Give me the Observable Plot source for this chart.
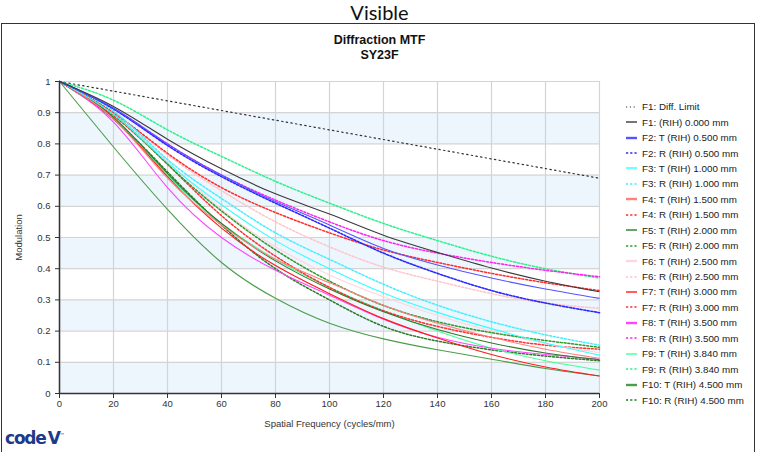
<!DOCTYPE html>
<html>
<head>
<meta charset="utf-8">
<script src="https://cdn.jsdelivr.net/npm/d3@7"></script>
<script src="https://cdn.jsdelivr.net/npm/@observablehq/plot@0.6"></script>
<style>
  html, body { margin: 0; padding: 0; background: #fff; }
  #wrap { position: relative; width: 759px; height: 452px; overflow: hidden; font-family: "Liberation Sans", Arial, sans-serif; }
  #top { position: absolute; left: 0; top: 0; width: 759px; text-align: center; font-family: Lato, "Open Sans", sans-serif; font-size: 20px; color: #111; line-height: 24px; }
  #frame { position: absolute; left: 1px; top: 23px; width: 754px; height: 430px; border: 1.5px solid #333; box-sizing: border-box; }
  #title { position: absolute; left: 0; top: 33px; width: 759px; text-align: center; font-weight: bold; font-size: 12.5px; line-height: 15px; color: #111; }
  #chart { position: absolute; left: 0; top: 0; }
  #legend { position: absolute; left: 626px; top: 99px; font-size: 9.8px; color: #222; }
  #legend .row { height: 15.45px; display: flex; align-items: center; white-space: nowrap; }
  #legend svg { margin-right: 4px; }
  #logo { position: absolute; left: 5px; top: 428px; font-family: "DejaVu Sans", sans-serif; font-weight: 900; font-size: 17px; color: #1d3a8a; letter-spacing: -1.2px; }
  #logo sup { font-size: 5px; letter-spacing: 0; font-weight: normal; }
</style>
</head>
<body>
<div id="wrap">
  <div id="top">Visible</div>
  <div id="frame"></div>
  <div id="chart"></div>
  <div id="title">Diffraction MTF<br>SY23F</div>
  <div id="legend"></div>
  <div id="logo">code<span style="margin-left:2px">V</span><sup>™</sup></div>
</div>
<script>
// Spatial frequency samples (cycles/mm)
const freq = [0, 20, 40, 60, 80, 100, 120, 140, 160, 180, 200];

// Series names (legend order)
const seriesNames = [
  "F1: Diff. Limit",
  "F1: (RIH) 0.000 mm",
  "F2: T (RIH) 0.500 mm",
  "F2: R (RIH) 0.500 mm",
  "F3: T (RIH) 1.000 mm",
  "F3: R (RIH) 1.000 mm",
  "F4: T (RIH) 1.500 mm",
  "F4: R (RIH) 1.500 mm",
  "F5: T (RIH) 2.000 mm",
  "F5: R (RIH) 2.000 mm",
  "F6: T (RIH) 2.500 mm",
  "F6: R (RIH) 2.500 mm",
  "F7: T (RIH) 3.000 mm",
  "F7: R (RIH) 3.000 mm",
  "F8: T (RIH) 3.500 mm",
  "F8: R (RIH) 3.500 mm",
  "F9: T (RIH) 3.840 mm",
  "F9: R (RIH) 3.840 mm",
  "F10: T (RIH) 4.500 mm",
  "F10: R (RIH) 4.500 mm"
];

// Modulation values at each frequency
const diffLimit = [1, 0.969, 0.938, 0.907, 0.876, 0.845, 0.814, 0.783, 0.752, 0.721, 0.690];
const f1   = [1, 0.920, 0.815, 0.720, 0.640, 0.575, 0.507, 0.452, 0.402, 0.360, 0.326];
const f2T  = [1, 0.915, 0.800, 0.700, 0.615, 0.540, 0.465, 0.412, 0.370, 0.335, 0.305];
const f2R  = [1, 0.912, 0.795, 0.695, 0.610, 0.530, 0.450, 0.385, 0.330, 0.290, 0.259];
const f3T  = [1, 0.895, 0.740, 0.605, 0.490, 0.400, 0.322, 0.260, 0.208, 0.162, 0.123];
const f3R  = [1, 0.905, 0.750, 0.625, 0.515, 0.430, 0.350, 0.283, 0.230, 0.188, 0.155];
const f4T  = [1, 0.880, 0.690, 0.540, 0.430, 0.355, 0.283, 0.225, 0.180, 0.142, 0.113];
const f4R  = [1, 0.900, 0.770, 0.660, 0.580, 0.515, 0.460, 0.420, 0.385, 0.355, 0.330];
const f5T  = [1, 0.885, 0.705, 0.545, 0.425, 0.335, 0.262, 0.205, 0.162, 0.130, 0.108];
const f5R  = [1, 0.895, 0.735, 0.585, 0.460, 0.360, 0.282, 0.230, 0.195, 0.170, 0.148];
const f6T  = [1, 0.895, 0.745, 0.590, 0.470, 0.380, 0.310, 0.250, 0.200, 0.160, 0.131];
const f6R  = [1, 0.900, 0.765, 0.650, 0.550, 0.470, 0.405, 0.360, 0.320, 0.290, 0.273];
const f7T  = [1, 0.880, 0.695, 0.530, 0.410, 0.320, 0.240, 0.178, 0.125, 0.085, 0.056];
const f7R  = [1, 0.890, 0.735, 0.570, 0.440, 0.340, 0.265, 0.215, 0.180, 0.155, 0.142];
const f8T  = [1, 0.870, 0.660, 0.500, 0.395, 0.315, 0.238, 0.180, 0.145, 0.125, 0.110];
const f8R  = [1, 0.913, 0.800, 0.700, 0.620, 0.550, 0.490, 0.450, 0.420, 0.395, 0.374];
const f9T  = [1, 0.885, 0.700, 0.545, 0.430, 0.340, 0.265, 0.200, 0.145, 0.105, 0.075];
const f9R  = [1, 0.940, 0.845, 0.760, 0.680, 0.610, 0.545, 0.490, 0.440, 0.400, 0.370];
const f10T = [1, 0.790, 0.590, 0.420, 0.305, 0.225, 0.175, 0.140, 0.110, 0.080, 0.056];
const f10R = [1, 0.880, 0.710, 0.540, 0.400, 0.300, 0.215, 0.168, 0.140, 0.120, 0.105];

const seriesValues = [diffLimit, f1, f2T, f2R, f3T, f3R, f4T, f4R, f5T, f5R, f6T, f6R, f7T, f7R, f8T, f8R, f9T, f9R, f10T, f10R];

// Styles per series: colour, dash, width
const seriesColors = ["#333333", "#3a3a3a", "#5555ff", "#2a2aff", "#33ffff", "#44eeff", "#ff8080", "#ff2a2a",
  "#2c7a2c", "#2e9a2e", "#ffd6de", "#ffc4cc", "#ff1a1a", "#ff3030", "#ff44ff", "#ff22ee", "#44ff99", "#2ef08c", "#4a9e4a", "#2a7a2a"];
const seriesDash = [ "1.4,3.3", null, null, "2,1.6", null, "2,1.8", null, "2,1.8", null, "2,1.8", null, "2,1.8",
  null, "2,1.8", null, "2,1.8", null, "2,1.8", null, "2,1.8"];
const seriesWidth = [1.2, 1.1, 1.1, 1.6, 1.1, 1.5, 1.1, 1.5, 1.1, 1.5, 1.2, 1.5, 1.1, 1.5, 1.1, 1.5, 1.1, 1.5, 1.1, 1.5];
const legendWidth = [1.2, 1.4, 2.4, 1.5, 1.4, 1.4, 2.4, 1.4, 1.4, 1.4, 2.4, 1.4, 1.4, 1.4, 2.4, 1.4, 1.4, 1.4, 2.4, 1.4];

const xTicks = [0, 20, 40, 60, 80, 100, 120, 140, 160, 180, 200];
const yTicks = [0, 0.1, 0.2, 0.3, 0.4, 0.5, 0.6, 0.7, 0.8, 0.9, 1];
const bandStarts = [0, 0.2, 0.4, 0.6, 0.8];

const lineMarks = seriesValues.map((vals, i) => {
  const data = freq.map((f, j) => ({x: f, y: vals[j]}));
  return Plot.line(data, {
    x: "x", y: "y", curve: "natural",
    stroke: seriesColors[i],
    strokeWidth: seriesWidth[i],
    strokeDasharray: seriesDash[i] || undefined,
    strokeLinecap: seriesDash[i] ? "round" : "butt"
  });
});
// draw diffraction-limit first, rest in reverse order so F1 is on top
const ordered = [lineMarks[0], ...lineMarks.slice(1).reverse()];

const chart = Plot.plot({
  width: 759,
  height: 452,
  marginLeft: 59,
  marginRight: 160,
  marginTop: 81,
  marginBottom: 59,
  style: {fontFamily: "'Liberation Sans', Arial, sans-serif", fontSize: "9.5px", color: "#333", background: "transparent", overflow: "visible"},
  x: {domain: [0, 200]},
  y: {domain: [0, 1]},
  marks: [
    Plot.rect(bandStarts, {x1: 0, x2: 200, y1: d => d, y2: d => d + 0.1, fill: "#edf5fd"}),
    Plot.gridX(xTicks, {stroke: "#d4d4d4", strokeOpacity: 1, strokeWidth: 1.2}),
    Plot.gridY(yTicks, {stroke: "#d4d4d4", strokeOpacity: 1, strokeWidth: 1.2}),
    ...ordered,
    Plot.ruleX([0], {stroke: "#333", strokeWidth: 1.5}),
    Plot.ruleY([0], {stroke: "#333", strokeWidth: 1.5}),
    Plot.axisX(xTicks, {tickSize: 5, tickPadding: 2, stroke: "#333", label: "Spatial Frequency (cycles/mm)", labelAnchor: "center", labelArrow: "none", labelOffset: 33, fill: "#333"}),
    Plot.axisY(yTicks, {tickSize: 4, tickPadding: 5, stroke: "#333", tickFormat: d => String(+d.toFixed(1)), label: "Modulation", labelAnchor: "center", labelArrow: "none", labelOffset: 44, fill: "#333"})
  ]
});
document.getElementById("chart").appendChild(chart);

// Legend
const legend = document.getElementById("legend");
seriesNames.forEach((name, i) => {
  const row = document.createElement("div");
  row.className = "row";
  const dash = seriesDash[i] ? (i === 0 ? "1.2,2.6" : "2.2,2") : "";
  row.innerHTML = `<svg width="12" height="6"><line x1="0" y1="3" x2="11" y2="3" stroke="${seriesColors[i]}" stroke-width="${legendWidth[i]}" ${dash ? `stroke-dasharray="${dash}"` : ""}/></svg><span>${name}</span>`;
  legend.appendChild(row);
});
</script>
</body>
</html>
